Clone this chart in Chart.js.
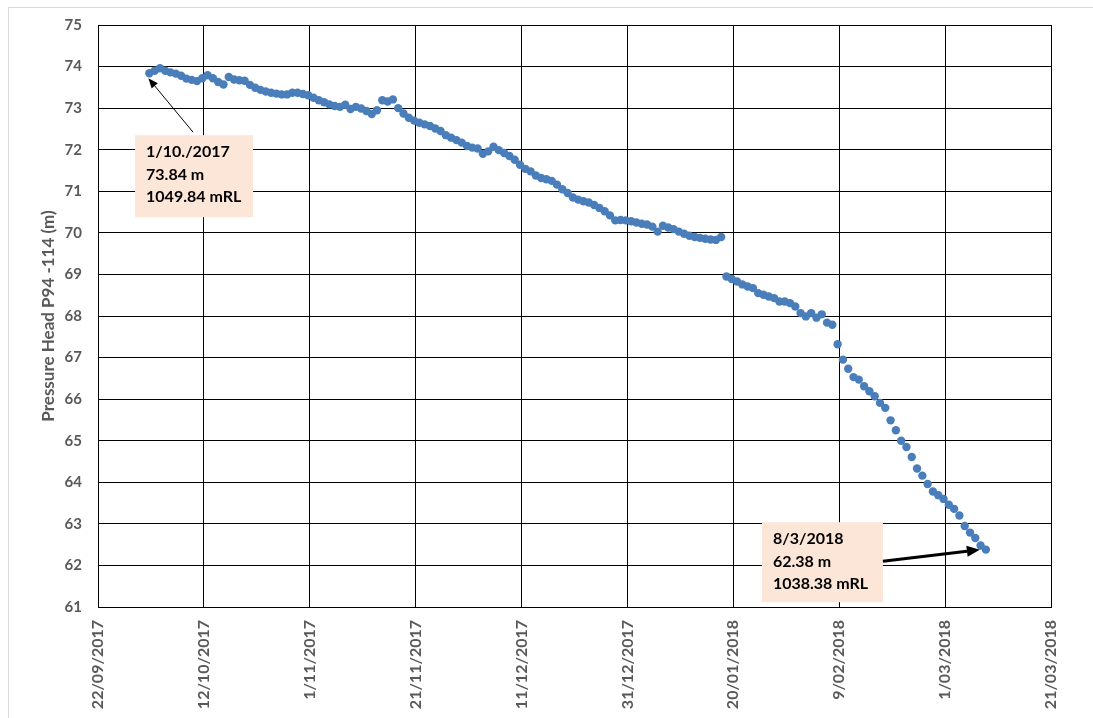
<!DOCTYPE html>
<html>
<head>
<meta charset="utf-8">
<title>Pressure Head P94 -114</title>
<script src="https://cdn.jsdelivr.net/npm/chart.js@4.4.1/dist/chart.umd.min.js"></script>
<style>
    html, body { margin: 0; padding: 0; background: #fff; overflow: hidden; }
    #frame { position: absolute; left: 8px; top: 7px; width: 1100px; height: 730px; border: 1px solid #d9d9d9; }
    #chart { position: absolute; left: 0; top: 0; }
</style>
</head>
<body>
<div id="frame"></div>
<canvas id="chart" width="1093" height="718"></canvas>
<script>
// x axis is days after 22/09/2017, one reading per day starting 1/10/2017
const firstDay = 9;
const readingTime = 0.7; // readings are taken late in the day

// Pressure head (m), daily from 1/10/2017 to 8/3/2018
const pressureHead = [
    73.84, 73.90, 73.96, 73.90, 73.86, 73.83, 73.78, 73.71, 73.68, 73.65, 73.72, 73.79,
    73.72, 73.63, 73.57, 73.75, 73.69, 73.67, 73.66, 73.56, 73.49, 73.44,
    73.40, 73.37, 73.35, 73.33, 73.33, 73.37, 73.37, 73.34, 73.31, 73.25,
    73.19, 73.14, 73.09, 73.05, 73.03, 73.08, 72.98, 73.03, 72.99, 72.93,
    72.86, 72.95, 73.19, 73.16, 73.21, 73.00, 72.87, 72.77, 72.70, 72.65,
    72.61, 72.57, 72.51, 72.45, 72.35, 72.29, 72.23, 72.17, 72.09, 72.05,
    72.03, 71.90, 71.96, 72.07, 71.99, 71.92, 71.85, 71.76, 71.64, 71.54,
    71.48, 71.38, 71.32, 71.29, 71.25, 71.16, 71.05, 70.96, 70.85, 70.80,
    70.76, 70.73, 70.67, 70.60, 70.52, 70.42, 70.30, 70.31, 70.30, 70.28,
    70.25, 70.22, 70.20, 70.15, 70.03, 70.17, 70.13, 70.09, 70.03, 69.98,
    69.93, 69.90, 69.88, 69.86, 69.84, 69.83, 69.90,
    68.95, 68.89, 68.83, 68.76, 68.71, 68.67, 68.55, 68.51, 68.47, 68.43,
    68.35, 68.35, 68.31, 68.23, 68.07, 67.99, 68.07, 67.96, 68.04, 67.84,
    67.79, 67.32, 66.95, 66.73, 66.53, 66.47, 66.31, 66.19, 66.07, 65.91,
    65.79, 65.49, 65.25, 65.00, 64.85, 64.61, 64.33, 64.16, 63.96, 63.78,
    63.69, 63.60, 63.46, 63.36, 63.20, 62.95, 62.79, 62.66, 62.48, 62.38
];

const xTickLabels = ['22/09/2017', '12/10/2017', '1/11/2017', '21/11/2017', '11/12/2017',
    '31/12/2017', '20/01/2018', '9/02/2018', '1/03/2018', '21/03/2018'];
const xStep = 20;
const yMin = 61, yMax = 75;

const firstNote = ['1/10./2017', '73.84 m', '1049.84 mRL'];
const lastNote = ['8/3/2018', '62.38 m', '1038.38 mRL'];

const points = pressureHead.map((v, i) => ({ x: firstDay + i + readingTime, y: v }));

const FONT = 'Lato, "Open Sans", sans-serif';
const GREY = '#595959';

// draw a line with a filled arrow head at (x2, y2)
function arrow(ctx, x1, y1, x2, y2, width, headLen, headWidth) {
    const ang = Math.atan2(y2 - y1, x2 - x1);
    const bx = x2 - Math.cos(ang) * headLen;
    const by = y2 - Math.sin(ang) * headLen;
    ctx.save();
    ctx.strokeStyle = '#000';
    ctx.fillStyle = '#000';
    ctx.lineWidth = width;
    ctx.beginPath();
    ctx.moveTo(x1, y1);
    ctx.lineTo(bx, by);
    ctx.stroke();
    ctx.beginPath();
    ctx.moveTo(x2, y2);
    ctx.lineTo(bx + Math.sin(ang) * headWidth / 2, by - Math.cos(ang) * headWidth / 2);
    ctx.lineTo(bx - Math.sin(ang) * headWidth / 2, by + Math.cos(ang) * headWidth / 2);
    ctx.closePath();
    ctx.fill();
    ctx.restore();
}

function noteBox(ctx, left, top, w, h, lines) {
    ctx.save();
    ctx.fillStyle = '#fce6d8';
    ctx.fillRect(left, top, w, h);
    ctx.fillStyle = '#000';
    ctx.font = 'bold 16px ' + FONT;
    ctx.textBaseline = 'middle';
    ctx.textAlign = 'left';
    lines.forEach((t, i) => ctx.fillText(t, left + 11, top + 17 + i * 22.4));
    ctx.restore();
}

// Callout boxes for first and last readings
const notesPlugin = {
    id: 'notes',
    afterDraw(chart) {
        const ctx = chart.ctx;
        const xs = chart.scales.x, ys = chart.scales.y;
        const first = points[0], last = points[points.length - 1];
        const p1 = { x: xs.getPixelForValue(first.x), y: ys.getPixelForValue(first.y) };
        const p2 = { x: xs.getPixelForValue(last.x), y: ys.getPixelForValue(last.y) };

        // first reading
        const b1x = xs.getPixelForValue(7.0), b1y = ys.getPixelForValue(72.35);
        noteBox(ctx, b1x, b1y, 118, 82, firstNote);
        arrow(ctx, b1x + 58, b1y - 3, p1.x - 1, p1.y + 5, 1, 10, 8);

        // last reading
        const b2x = xs.getPixelForValue(125.4), b2y = ys.getPixelForValue(63.04);
        noteBox(ctx, b2x, b2y, 121, 80, lastNote);
        arrow(ctx, b2x + 121, b2y + 39, p2.x - 6, p2.y, 3, 13, 11);
    }
};

new Chart(document.getElementById('chart'), {
    type: 'scatter',
    data: {
        datasets: [{
            label: 'Pressure Head',
            data: points,
            backgroundColor: '#4A7EBB',
            borderColor: '#4A7EBB',
            pointRadius: 4.2,
            borderWidth: 0
        }]
    },
    options: {
        responsive: false,
        animation: false,
        devicePixelRatio: 1,
        layout: { padding: { top: 25, right: 42, bottom: 0, left: 0 } },
        plugins: {
            legend: { display: false },
            tooltip: { enabled: false }
        },
        scales: {
            x: {
                type: 'linear',
                min: 0,
                max: xStep * (xTickLabels.length - 1),
                afterFit: (scale) => { scale.height = 111; },
                grid: { color: '#000', drawTicks: false },
                border: { color: '#000' },
                ticks: {
                    stepSize: xStep,
                    autoSkip: false,
                    minRotation: 90,
                    maxRotation: 90,
                    padding: 13,
                    color: GREY,
                    font: { family: FONT, size: 16, weight: 'bold' },
                    callback: (v) => xTickLabels[Math.round(v / xStep)]
                }
            },
            y: {
                min: yMin,
                max: yMax,
                afterFit: (scale) => { scale.width = 98; },
                grid: { color: '#000', drawTicks: false },
                border: { color: '#000' },
                ticks: {
                    stepSize: 1,
                    padding: 16,
                    color: GREY,
                    font: { family: FONT, size: 15, weight: 'bold' }
                },
                title: {
                    display: true,
                    text: 'Pressure Head P94 -114 (m)',
                    color: GREY,
                    font: { family: FONT, size: 17, weight: 'bold' },
                    padding: { top: 38, bottom: 0 }
                }
            }
        }
    },
    plugins: [notesPlugin]
});
</script>
</body>
</html>
